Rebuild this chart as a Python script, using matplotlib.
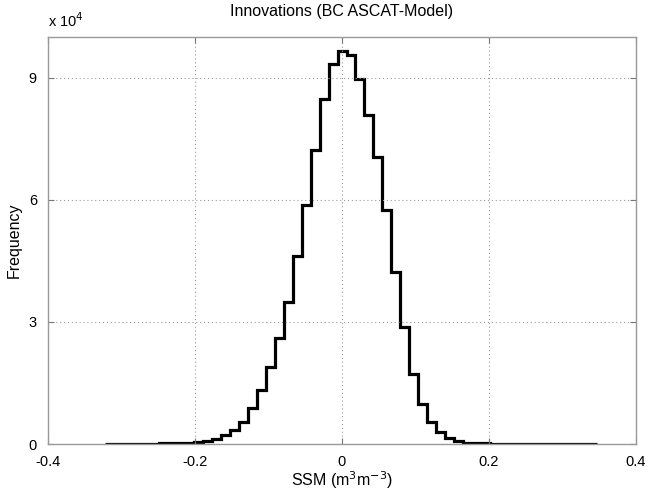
import numpy as np
import matplotlib
matplotlib.use("Agg")
import matplotlib.pyplot as plt

# histogram of innovations, bins of ~0.0122 centred on 0
bin_left = -0.3227
bin_width = 0.01218
counts = [40, 50, 60, 70, 80, 100, 130, 160, 200, 260,
          380, 700, 1250, 2200, 3500, 5500, 8800, 13200, 18900, 26000,
          34800, 46100, 58800, 72300, 84800, 93400, 96600, 95600, 89700, 80900,
          70600, 57600, 42200, 28700, 17200, 9800, 5400, 2900, 1400, 650,
          300, 180, 130, 100, 80, 60, 50, 40, 35, 30,
          25, 20, 20, 15, 15]
xticks = [-0.4, -0.2, 0, 0.2, 0.4]
xticklabels = ["-0.4", "-0.2", "0", "0.2", "0.4"]
yticks = [0, 30000, 60000, 90000]
yticklabels = ["0", "3", "6", "9"]

plt.rcParams["font.family"] = ["Liberation Sans", "DejaVu Sans"]

edges = bin_left + bin_width * np.arange(len(counts) + 1)

fig = plt.figure(figsize=(6.48, 4.93), dpi=100)
ax = fig.add_axes([48/648, 1 - 444/493, (636-48)/648, (444-37)/493])

ax.stairs(counts, edges, baseline=None, color="black", linewidth=2.3)

ax.set_xlim(-0.4, 0.4)
ax.set_ylim(0, 100000)
ax.set_xticks(xticks)
ax.set_xticklabels(xticklabels)
ax.set_yticks(yticks)
ax.set_yticklabels(yticklabels)

ax.grid(True, linestyle=(0, (1, 2.5)), color="#999999", linewidth=0.8)
ax.tick_params(direction="in", top=True, right=True, length=4, width=0.8,
               colors="#777777", labelcolor="black", labelsize=10.5)
ax.tick_params(axis="x", pad=8)
ax.tick_params(axis="y", pad=8)
for s in ax.spines.values():
    s.set_color("#999999")
    s.set_linewidth(1.0)

ax.set_title("Innovations (BC ASCAT-Model)", fontsize=11.5, pad=15)
ax.set_xlabel("SSM (m$^3$m$^{-3}$)", fontsize=11.5, labelpad=0)
ax.set_ylabel("Frequency", fontsize=11.5, labelpad=5)
ax.text(0.0, 1.018, r"x 10$^4$", transform=ax.transAxes, fontsize=10.5,
        ha="left", va="bottom")

fig.savefig("out.png", dpi=100)
